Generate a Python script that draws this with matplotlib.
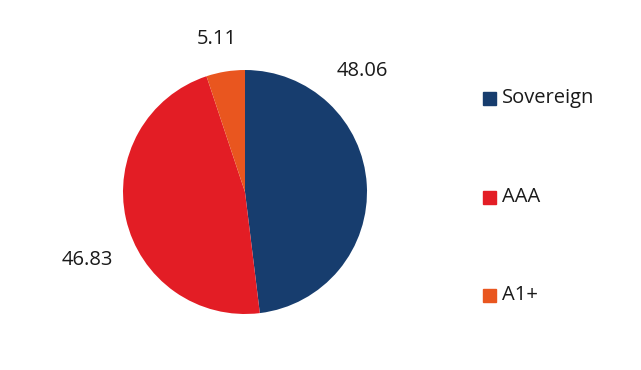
import matplotlib
matplotlib.use("Agg")
import matplotlib.pyplot as plt
from matplotlib.patches import Rectangle

categories = ["Sovereign", "AAA", "A1+"]
values = [48.06, 46.83, 5.11]
colors = ["#173D6E", "#E31D25", "#E9561F"]
label_pos = [(0.96, 0.99), (-1.29, -0.56), (-0.23, 1.25)]

plt.rcParams['font.family'] = ['Open Sans', 'DejaVu Sans']

fig = plt.figure(figsize=(6.41, 3.70), dpi=100)
cx, cy, r = 245 / 641, 1 - 192 / 370, 122
w, h = 2 * r / 641, 2 * r / 370
ax = fig.add_axes([cx - w / 2, cy - h / 2, w, h])
ax.pie(values, colors=colors, startangle=90, counterclock=False,
       wedgeprops=dict(linewidth=0))
ax.set_xlim(-1, 1)
ax.set_ylim(-1, 1)
ax.set_aspect('equal')
ax.axis('off')
for v, (x, y) in zip(values, label_pos):
    ax.text(x, y, f"{v:.2f}", ha='center', va='center', fontsize=14.5,
            color='#1a1a1a', clip_on=False)

rows = [98, 197, 295]
for name, col, yy in zip(categories, colors, rows):
    y = 1 - yy / 370
    fig.patches.append(Rectangle((483 / 641, y - 6.5 / 370), 13 / 641, 13 / 370,
                                 transform=fig.transFigure, color=col))
    fig.text(502 / 641, y, name, ha='left', va='center', fontsize=14.5,
             color='#1a1a1a')

fig.savefig("out.png", dpi=100)
